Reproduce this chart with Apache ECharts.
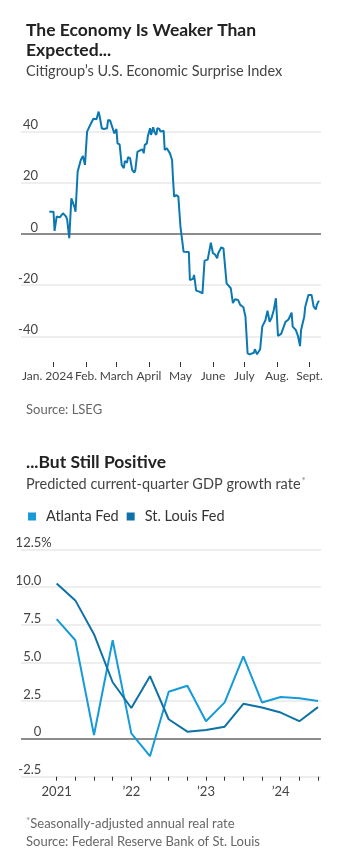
<!DOCTYPE html>
<html>
<head>
<meta charset="utf-8">
<script src="https://cdn.jsdelivr.net/npm/echarts@6/dist/echarts.min.js"></script>
<style>
html,body{margin:0;padding:0;background:#fff;}
#c{width:343px;height:854px;}
</style>
</head>
<body>
<div id="c"></div>
<script>
// ---- Chart 1: Citigroup U.S. Economic Surprise Index ----
const surpriseDates = [
'2023-12-28','2024-01-01','2024-01-02','2024-01-04','2024-01-07','2024-01-10','2024-01-13','2024-01-14','2024-01-16','2024-01-18',
'2024-01-21','2024-01-22','2024-01-24','2024-01-27','2024-01-29','2024-01-31','2024-02-02','2024-02-05','2024-02-08','2024-02-11',
'2024-02-13','2024-02-14','2024-02-16','2024-02-18','2024-02-21','2024-02-22','2024-02-24','2024-02-25','2024-02-28','2024-03-01',
'2024-03-02','2024-03-04','2024-03-06','2024-03-08','2024-03-09','2024-03-11','2024-03-12','2024-03-14','2024-03-16','2024-03-18',
'2024-03-19','2024-03-21','2024-03-24','2024-03-26','2024-03-27','2024-03-28','2024-03-30','2024-03-31','2024-04-02','2024-04-03',
'2024-04-05','2024-04-06','2024-04-08','2024-04-09','2024-04-11','2024-04-12','2024-04-15','2024-04-16','2024-04-18','2024-04-21',
'2024-04-23','2024-04-24','2024-04-25','2024-04-27','2024-04-29','2024-05-01','2024-05-02','2024-05-04','2024-05-09','2024-05-10',
'2024-05-13','2024-05-14','2024-05-16','2024-05-19','2024-05-22','2024-05-24','2024-05-27','2024-05-30','2024-06-01','2024-06-03',
'2024-06-05','2024-06-06','2024-06-09','2024-06-11','2024-06-12','2024-06-14','2024-06-18','2024-06-20','2024-06-22','2024-06-25',
'2024-06-27','2024-06-30','2024-07-02','2024-07-04','2024-07-06','2024-07-10','2024-07-11','2024-07-13','2024-07-16','2024-07-18',
'2024-07-21','2024-07-23','2024-07-25','2024-07-27','2024-07-29','2024-07-31','2024-08-02','2024-08-05','2024-08-07','2024-08-09',
'2024-08-12','2024-08-15','2024-08-16','2024-08-19','2024-08-21','2024-08-23','2024-08-24','2024-08-27','2024-08-28','2024-08-31',
'2024-09-03','2024-09-05','2024-09-07','2024-09-08','2024-09-10'
];
const surpriseValues = [
8.7,8.7,1.2,6.8,6.5,8.1,6.8,5.6,-1.6,13.9,
10.5,8.7,24.3,28.9,30.5,27,40,42.6,45,44.8,
47.8,46,41.3,41,41.3,44.5,44.3,43,39.3,41,
35.4,35,27,25.7,28.5,27.8,30,29.6,25,24,
25,32.1,32.8,33,31.5,34.8,35.4,38.3,41.3,38.7,
41.7,40,38.7,41.3,41,40,40.3,32.8,33.5,31.5,
28.9,21,14.6,15.2,14.6,2.9,2.6,-6.9,-7,-18,
-17.5,-16,-22.1,-22.5,-23.2,-10.4,-10,-3.4,-7.5,-8,
-9.5,-7.5,-5.2,-5.6,-6.3,-19.3,-21.2,-27,-25.5,-25.8,
-27.7,-28.6,-32.3,-46.6,-47,-46.4,-45,-47,-45,-36.2,
-33.7,-30,-34.3,-32.6,-29.7,-25.1,-39.8,-39,-36.8,-34.4,
-33.4,-30.7,-36.2,-37.5,-39.8,-43.8,-37.5,-32.3,-28.4,-23.8,
-23.8,-28.4,-29.5,-27.7,-26
];
const monthTicks = ['2024-01-01','2024-02-01','2024-03-01','2024-04-01','2024-05-01','2024-06-01','2024-07-01','2024-08-01','2024-09-01'];
const monthLabels = ['Jan. 2024','Feb.','March','April','May','June','July','Aug.','Sept.'];
const surpriseTicks = [-40,-20,0,20,40];

// ---- Chart 2: Predicted current-quarter GDP growth rate ----
const quarters = ['2021 Q1','2021 Q2','2021 Q3','2021 Q4','2022 Q1','2022 Q2','2022 Q3','2022 Q4',
                  '2023 Q1','2023 Q2','2023 Q3','2023 Q4','2024 Q1','2024 Q2','2024 Q3'];
const atlantaFed = [7.9,6.5,0.25,6.5,0.36,-1.15,3.1,3.5,1.16,2.4,5.43,2.4,2.76,2.67,2.49];
const stLouisFed = [10.25,9.13,6.9,3.73,2.03,4.13,1.29,0.47,0.58,0.8,2.31,2.07,1.73,1.16,2.09];
const yearTickIdx = [0,4,8,12];
const yearLabels = ['2021','\u201922','\u201923','\u201924'];

const FONT = 'Lato, "Noto Sans", sans-serif';
const C_TOP = '#0c78b2';
const C_ATL = '#169bd8';
const C_STL = '#0e72a6';
const GRID = '#eeeeee';
const ZERO = '#8c8c8c';

const chart = echarts.init(document.getElementById('c'), null, {renderer:'canvas'});
const ts = s => +echarts.time.parse(s);
const monthTs = monthTicks.map(ts);
const topMin = ts('2023-12-01');
const topMax = ts('2024-09-12');
const quarterIdx = quarters.map((q,i)=>i);

const option = {
  backgroundColor:'#fff',
  animation:false,
  textStyle:{fontFamily:FONT},
  title:[
    {text:'The Economy Is Weaker Than\nExpected...', left:21, top:15,
     textStyle:{fontFamily:FONT, fontSize:17.5, fontWeight:'bold', color:'#222', lineHeight:20}},
    {text:'Citigroup\u2019s U.S. Economic Surprise Index', left:21, top:58,
     textStyle:{fontFamily:FONT, fontSize:14.5, fontWeight:'normal', color:'#444', lineHeight:16}},
    {text:'Source: LSEG', left:21, top:397,
     textStyle:{fontFamily:FONT, fontSize:13, fontWeight:'normal', color:'#666', lineHeight:15}},
    {text:'...But Still Positive', left:21, top:447,
     textStyle:{fontFamily:FONT, fontSize:17.5, fontWeight:'bold', color:'#222', lineHeight:20}},
    {text:'Predicted current-quarter GDP growth rate{s|*}', left:21, top:471,
     textStyle:{fontFamily:FONT, fontSize:14.5, fontWeight:'normal', color:'#444', lineHeight:16,
       rich:{s:{fontFamily:FONT, fontSize:10, color:'#888', padding:[0,0,7,1]}}}},
    {text:'{s|*}Seasonally-adjusted annual real rate', left:21, top:811,
     textStyle:{fontFamily:FONT, fontSize:13, fontWeight:'normal', color:'#666', lineHeight:15,
       rich:{s:{fontFamily:FONT, fontSize:10, color:'#888', padding:[0,0,6,0]}}}},
    {text:'Source: Federal Reserve Bank of St. Louis', left:21, top:829,
     textStyle:{fontFamily:FONT, fontSize:13, fontWeight:'normal', color:'#666', lineHeight:15}}
  ],
  legend:{
    data:['Atlanta Fed','St. Louis Fed'],
    left:23, top:504, icon:'rect', itemWidth:8, itemHeight:8, itemGap:8,
    textStyle:{fontFamily:FONT, fontSize:14.5, color:'#333', padding:[0,0,0,5]}
  },
  grid:[
    {left:21, top:106, width:300, height:256},
    {left:21, top:549.3, width:300, height:227.4}
  ],
  xAxis:[
    {gridIndex:0, type:'value', min:topMin, max:topMax,
     axisLine:{show:false, onZero:false},
     axisTick:{show:true, length:5, customValues:monthTs, lineStyle:{color:'#333', width:1}},
     axisLabel:{customValues:[topMin].concat(monthTs), margin:8, fontFamily:FONT, fontSize:12, color:'#444',
       hideOverlap:false,
       formatter:function(v){
         const i = monthTs.indexOf(+v);
         if (i===0) return '{j|' + monthLabels[0] + '}';
         return i>=0 ? monthLabels[i] : '';
       },
       rich:{j:{fontFamily:FONT, fontSize:12, color:'#444', padding:[0,12,0,0]}}},
     splitLine:{show:false}},
    {gridIndex:1, type:'value', min:-1.91, max:14.16,
     axisLine:{show:false, onZero:false},
     axisTick:{show:true, length:4, customValues:quarterIdx, lineStyle:{color:'#333', width:1}},
     axisLabel:{customValues:yearTickIdx, margin:9, fontFamily:FONT, fontSize:13, color:'#444',
       showMinLabel:true, showMaxLabel:true, hideOverlap:false,
       formatter:function(v){ const i = yearTickIdx.indexOf(Math.round(v)); return i>=0 ? yearLabels[i] : ''; }},
     splitLine:{show:false}}
  ],
  yAxis:[
    {gridIndex:0, type:'value', min:-50, max:50,
     axisLine:{show:false},
     axisTick:{show:false, customValues:surpriseTicks},
     axisLabel:{customValues:surpriseTicks, align:'right', verticalAlign:'bottom', margin:-17,
       fontFamily:FONT, fontSize:13, color:'#444', formatter:v=>String(v)},
     splitLine:{show:true, lineStyle:{color:[GRID,GRID,ZERO,GRID,GRID], width:2}}},
    {gridIndex:1, type:'value', min:-2.5, max:12.5, interval:2.5,
     axisLine:{show:false},
     axisTick:{show:false},
     axisLabel:{align:'right', verticalAlign:'bottom', margin:-30.7,
       fontFamily:FONT, fontSize:13, color:'#444',
       formatter:function(v){
         if (Math.abs(v-12.5)<1e-9) return '12.5%';
         const s = (v===0) ? '0' : v.toFixed(1);
         return s + '{h|%}';
       },
       rich:{h:{fontFamily:FONT, fontSize:13, color:'rgba(0,0,0,0)'}}},
     splitLine:{show:true, lineStyle:{color:[GRID,ZERO,GRID,GRID,GRID,GRID,GRID], width:2}}}
  ],
  series:[
    {name:'Surprise Index', type:'line', xAxisIndex:0, yAxisIndex:0, showSymbol:false,
     lineStyle:{color:C_TOP, width:2}, itemStyle:{color:C_TOP},
     data:surpriseDates.map((d,i)=>[ts(d), surpriseValues[i]])},
    {name:'Atlanta Fed', type:'line', xAxisIndex:1, yAxisIndex:1, showSymbol:false,
     lineStyle:{color:C_ATL, width:2}, itemStyle:{color:C_ATL},
     data:quarterIdx.map(i=>[i, atlantaFed[i]])},
    {name:'St. Louis Fed', type:'line', xAxisIndex:1, yAxisIndex:1, showSymbol:false,
     lineStyle:{color:C_STL, width:2}, itemStyle:{color:C_STL},
     data:quarterIdx.map(i=>[i, stLouisFed[i]])}
  ]
};
chart.setOption(option);
</script>
</body>
</html>
